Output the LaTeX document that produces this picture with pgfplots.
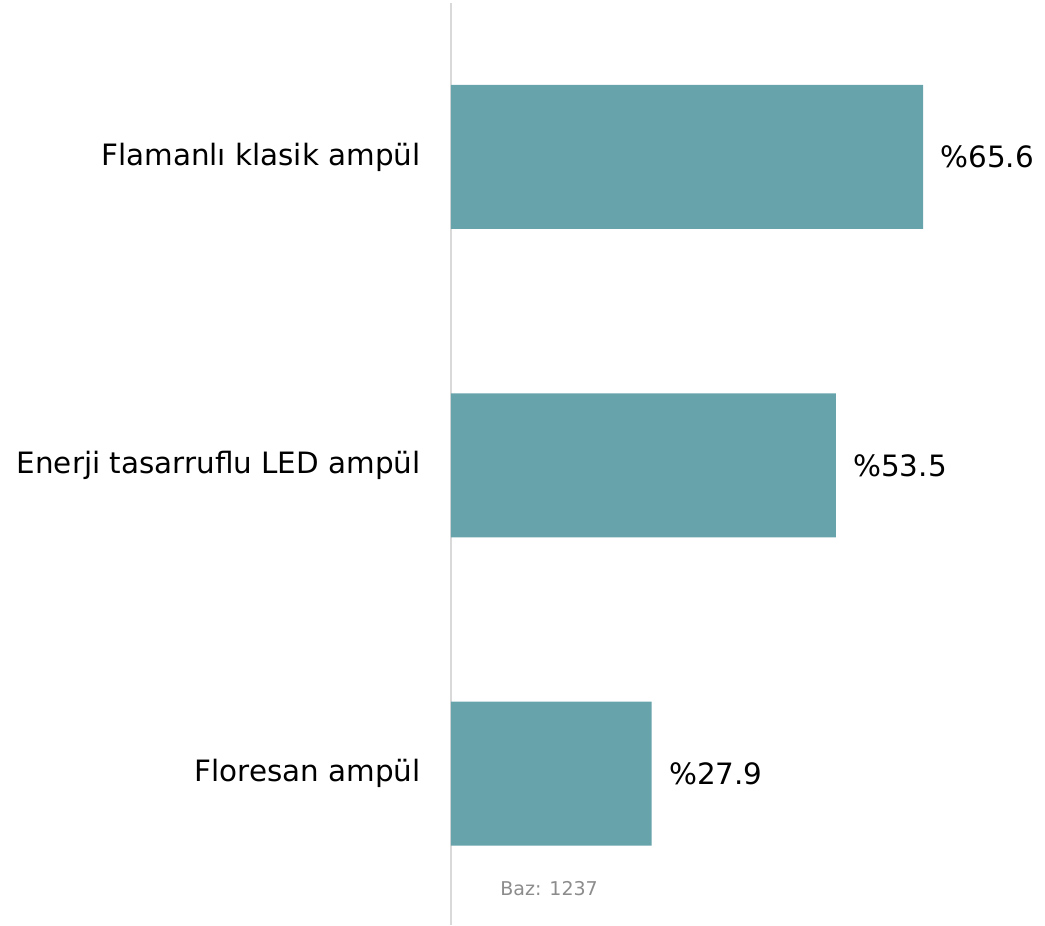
\documentclass[border=0pt]{standalone}
\usepackage{pgfplots}
\pgfplotsset{compat=1.18}
\usepackage{fontspec}
\setmainfont{DejaVu Sans}
\definecolor{barc}{HTML}{66A3AB}
\definecolor{axc}{HTML}{D9D9D9}
\definecolor{bazc}{HTML}{8C8C8C}
\begin{document}
\begin{tikzpicture}
\begin{axis}[
  scale only axis,
  width=297pt, height=461pt,
  xmin=0, xmax=82.55,
  ymin=-0.491, ymax=2.499,
  axis x line=none,
  axis y line*=left,
  y axis line style={draw=axc, line width=1pt},
  xbar, bar width=72pt,
  ytick={0,1,2},
  yticklabels={Floresan ampül, Enerji tasarruflu LED ampül, Flamanlı klasik ampül},
  major tick length=0pt,
  /pgf/number format/assume math mode=true,
  yticklabel style={font=\fontsize{14.7}{17}\selectfont, anchor=east, inner sep=0pt, xshift=-15pt},
  nodes near coords={\%\pgfmathprintnumber[fixed,fixed zerofill,precision=1,assume math mode=true]{\pgfplotspointmeta}},
  every node near coord/.append style={font=\fontsize{14.7}{17}\selectfont, anchor=west, inner sep=0pt, xshift=8.5pt, black},
  clip=false,
]
\addplot[fill=barc, draw=none] coordinates {(27.9,0) (53.5,1) (65.6,2)};
\node[anchor=west, inner sep=0pt, text=bazc, font=\fontsize{9.5}{11}\selectfont] at (axis cs:6.81,-0.374) {Baz: 1237};
\coordinate (bl) at (axis cs:-62.67,-0.491);
\coordinate (tr) at (axis cs:82.55,2.509);
\end{axis}
\pgfresetboundingbox
\useasboundingbox (bl) rectangle (tr);
\end{tikzpicture}
\end{document}
